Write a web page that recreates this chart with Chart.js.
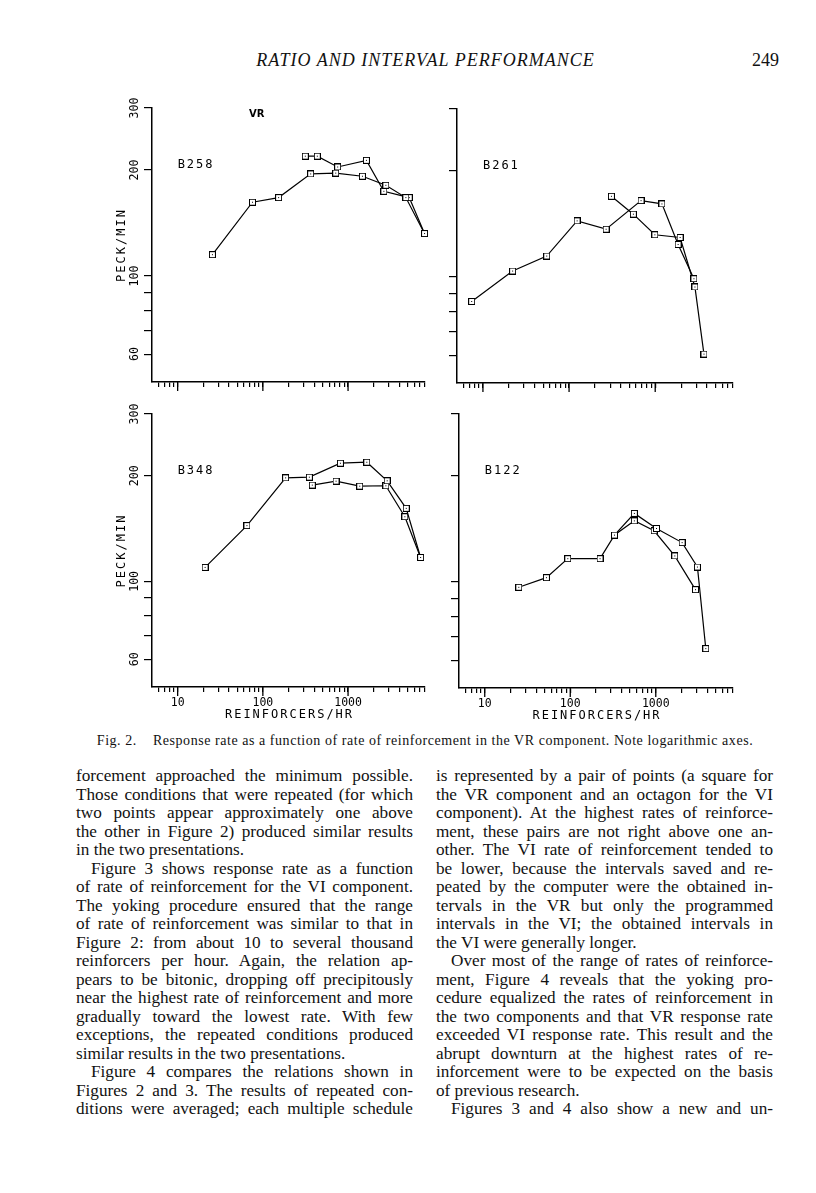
<!DOCTYPE html>
<html>
<head>
<meta charset="utf-8">
<script src="https://cdn.jsdelivr.net/npm/chart.js@4.4.0/dist/chart.umd.min.js"></script>
<style>
body { margin: 0; background: #fff; width: 816px; height: 1193px; position: relative; overflow: hidden; font-family: "Liberation Serif", "Times New Roman", serif; color: #111; }
canvas { position: absolute; }
#head { position: absolute; top: 49px; left: 0; width: 851px; text-align: center; font-style: italic; font-size: 18px; line-height: 22px; letter-spacing: 1px; }
#page { position: absolute; top: 49px; left: 752px; font-size: 18px; line-height: 22px; }
#caption { position: absolute; top: 732px; left: 0; width: 850px; text-align: center; font-size: 14px; line-height: 17px; letter-spacing: 0.55px; }
#caption span { margin-right: 12px; }
.col { position: absolute; top: 767px; width: 337px; font-size: 17.2px; line-height: 18.5px; }
.col div { text-align: justify; text-align-last: justify; }
.col div.e { text-align-last: left; }
.col div.i { text-indent: 15px; }
</style>
</head>
<body>
<div id="head">RATIO AND INTERVAL PERFORMANCE</div>
<div id="page">249</div>

<canvas id="c258" width="323" height="300" style="left:112px;top:94px"></canvas>
<canvas id="c261" width="326" height="300" style="left:417px;top:95px"></canvas>
<canvas id="c348" width="323" height="323" style="left:112px;top:400px"></canvas>
<canvas id="c122" width="324" height="324" style="left:419px;top:400px"></canvas>

<div id="caption"><span>Fig. 2.</span> Response rate as a function of rate of reinforcement in the VR component. Note logarithmic axes.</div>

<div class="col" style="left:76px">
<div>forcement approached the minimum possible.</div>
<div>Those conditions that were repeated (for which</div>
<div>two points appear approximately one above</div>
<div>the other in Figure 2) produced similar results</div>
<div class="e">in the two presentations.</div>
<div class="i">Figure 3 shows response rate as a function</div>
<div>of rate of reinforcement for the VI component.</div>
<div>The yoking procedure ensured that the range</div>
<div>of rate of reinforcement was similar to that in</div>
<div>Figure 2: from about 10 to several thousand</div>
<div>reinforcers per hour. Again, the relation ap-</div>
<div>pears to be bitonic, dropping off precipitously</div>
<div>near the highest rate of reinforcement and more</div>
<div>gradually toward the lowest rate. With few</div>
<div>exceptions, the repeated conditions produced</div>
<div class="e">similar results in the two presentations.</div>
<div class="i">Figure 4 compares the relations shown in</div>
<div>Figures 2 and 3. The results of repeated con-</div>
<div>ditions were averaged; each multiple schedule</div>
</div>

<div class="col" style="left:436px">
<div>is represented by a pair of points (a square for</div>
<div>the VR component and an octagon for the VI</div>
<div>component). At the highest rates of reinforce-</div>
<div>ment, these pairs are not right above one an-</div>
<div>other. The VI rate of reinforcement tended to</div>
<div>be lower, because the intervals saved and re-</div>
<div>peated by the computer were the obtained in-</div>
<div>tervals in the VR but only the programmed</div>
<div>intervals in the VI; the obtained intervals in</div>
<div class="e">the VI were generally longer.</div>
<div class="i">Over most of the range of rates of reinforce-</div>
<div>ment, Figure 4 reveals that the yoking pro-</div>
<div>cedure equalized the rates of reinforcement in</div>
<div>the two components and that VR response rate</div>
<div>exceeded VI response rate. This result and the</div>
<div>abrupt downturn at the highest rates of re-</div>
<div>inforcement were to be expected on the basis</div>
<div class="e">of previous research.</div>
<div class="i">Figures 3 and 4 also show a new and un-</div>
</div>

<script>
// axes (log-log)
const xTicks = [6, 7, 8, 9, 10, 20, 30, 40, 50, 60, 70, 80, 90, 100, 200, 300, 400, 500, 600, 700, 800, 900,
    1000, 2000, 3000, 4000, 5000, 6000, 7000, 8000];
const xLabelled = [10, 100, 1000];
const yTicks = [60, 70, 80, 90, 100, 200, 300];
const yLabelled = [60, 100, 200, 300];

// B258
const b258X = [25.6, 75.5, 153, 364, 716, 1475, 2775, 4765, 7900];
const b258Y = [115, 162, 167, 195, 196, 192, 181, 167, 132];
const b258RepX = [315, 435, 755, 1643, 2630, 5225, 7900];
const b258RepY = [219, 219, 204, 213, 174, 167, 132];

// B261
const b261X = [7.4, 22.1, 55, 124, 269, 685, 1197, 1845, 2813];
const b261Y = [85.2, 104, 114.7, 144.4, 136.7, 164.8, 161.3, 123.7, 98.9];
const b261RepX = [310, 557, 991, 1945, 2891, 3680];
const b261RepY = [169.5, 150.8, 131.8, 129.5, 93.7, 60.4];

// B348
const b348X = [21, 65, 185, 351, 813, 1660, 2877, 4812, 7100];
const b348Y = [109.6, 144.2, 197.3, 198.2, 217.2, 218.6, 193.5, 161.5, 117];
const b348RepX = [380, 722, 1371, 2775, 4640, 7100];
const b348RepY = [188.1, 193.1, 186.8, 187.3, 152.9, 117];

// B122
const b122X = [25, 52.6, 93.5, 223, 329, 562, 1019, 2033, 3070, 3845];
const b122Y = [96.6, 102.9, 116.5, 116.5, 135.9, 156.6, 141.9, 129.4, 110.3, 64.7];
const b122RepX = [329, 562, 957, 1667, 2911];
const b122RepY = [135.9, 149.2, 139.8, 118.6, 95.1];

const plotFont = '"DejaVu Sans Mono", monospace';

function pts(xs, ys) {
    return xs.map((x, i) => ({ x: x, y: ys[i] }));
}

// little square with a dot in it, like the plotter symbol
function makeMarker() {
    let c = document.createElement('canvas');
    c.width = 7;
    c.height = 7;
    let g = c.getContext('2d');
    g.fillStyle = '#fff';
    g.fillRect(0, 0, 7, 7);
    g.strokeStyle = '#000';
    g.lineWidth = 1;
    g.strokeRect(0.5, 0.5, 6, 6);
    g.fillStyle = '#000';
    g.fillRect(3, 3, 1, 1);
    return c;
}
const marker = makeMarker();

function series(xs, ys) {
    return {
        data: pts(xs, ys),
        borderColor: '#000',
        borderWidth: 1.2,
        pointStyle: marker,
        pointRadius: 3.5,
        tension: 0,
        clip: false
    };
}

const panelText = {
    id: 'panelText',
    afterDraw(chart) {
        const o = chart.options.plugins.panelText;
        const { ctx, chartArea: a } = chart;
        const x = chart.scales.x, y = chart.scales.y;
        ctx.save();
        ctx.strokeStyle = '#000';
        ctx.fillStyle = '#000';
        ctx.lineWidth = 1.3;
        // decade ticks are longer
        xLabelled.forEach(v => {
            let px = x.getPixelForValue(v);
            ctx.beginPath();
            ctx.moveTo(px, a.bottom);
            ctx.lineTo(px, a.bottom + 9);
            ctx.stroke();
        });
        ctx.letterSpacing = '2px';
        ctx.font = '12px ' + plotFont;
        ctx.textBaseline = 'middle';
        ctx.textAlign = 'left';
        ctx.fillText(o.name, x.getPixelForValue(10), y.getPixelForValue(207));
        ctx.textAlign = 'center';
        if (o.yTitle) {
            ctx.save();
            ctx.translate(a.left - 30.5, (a.top + a.bottom) / 2);
            ctx.rotate(-Math.PI / 2);
            ctx.fillText('PECK/MIN', 0, 0);
            ctx.restore();
        }
        if (o.xTitle) {
            ctx.fillText('REINFORCERS/HR', (a.left + a.right) / 2 + 1, a.bottom + 28);
        }
        if (o.tag) {
            ctx.letterSpacing = '0px';
            ctx.font = 'bold 10px "DejaVu Sans", sans-serif';
            ctx.fillText(o.tag, x.getPixelForValue(85), y.getPixelForValue(287));
        }
        ctx.restore();
    }
};

function makePanel(id, name, tag, main, rep, showY, showX) {
    const config = {
        type: 'line',
        data: { datasets: [series(main[0], main[1]), series(rep[0], rep[1])] },
        options: {
            responsive: false,
            animation: false,
            events: [],
            layout: { padding: { left: 0, right: 10, top: 14, bottom: 0 } },
            plugins: {
                legend: { display: false },
                tooltip: { enabled: false },
                panelText: { name: name, tag: tag, yTitle: showY, xTitle: showX }
            },
            scales: {
                x: {
                    type: 'logarithmic',
                    min: 5,
                    max: 8000,
                    afterBuildTicks: s => { s.ticks = xTicks.map(v => ({ value: v })); },
                    afterFit: s => { s.height = showX ? 36 : 12; },
                    border: { display: true, color: '#000', width: 1.5 },
                    grid: { drawOnChartArea: false, drawTicks: true, tickLength: 5, color: '#000', lineWidth: 1.2 },
                    ticks: {
                        display: showX,
                        autoSkip: false,
                        maxRotation: 0,
                        padding: 4,
                        color: '#000',
                        font: { family: plotFont, size: 11.5 },
                        callback: v => xLabelled.includes(v) ? String(v) : ''
                    }
                },
                y: {
                    type: 'logarithmic',
                    min: 50,
                    max: 300,
                    afterBuildTicks: s => { s.ticks = yTicks.map(v => ({ value: v })); },
                    afterFit: s => { s.width = 40; },
                    border: { display: true, color: '#000', width: 1.5 },
                    grid: { drawOnChartArea: false, drawTicks: true, tickLength: 8, color: '#000', lineWidth: 1.2 },
                    ticks: {
                        display: showY,
                        autoSkip: false,
                        minRotation: 90,
                        maxRotation: 90,
                        crossAlign: 'center',
                        padding: -1,
                        color: '#000',
                        font: { family: plotFont, size: 11.5 },
                        callback: v => yLabelled.includes(v) ? String(v) : ''
                    }
                }
            }
        },
        plugins: [panelText]
    };
    return new Chart(document.getElementById(id), config);
}

makePanel('c258', 'B258', 'VR', [b258X, b258Y], [b258RepX, b258RepY], true, false);
makePanel('c261', 'B261', null, [b261X, b261Y], [b261RepX, b261RepY], false, false);
makePanel('c348', 'B348', null, [b348X, b348Y], [b348RepX, b348RepY], true, true);
makePanel('c122', 'B122', null, [b122X, b122Y], [b122RepX, b122RepY], false, true);
</script>
</body>
</html>
